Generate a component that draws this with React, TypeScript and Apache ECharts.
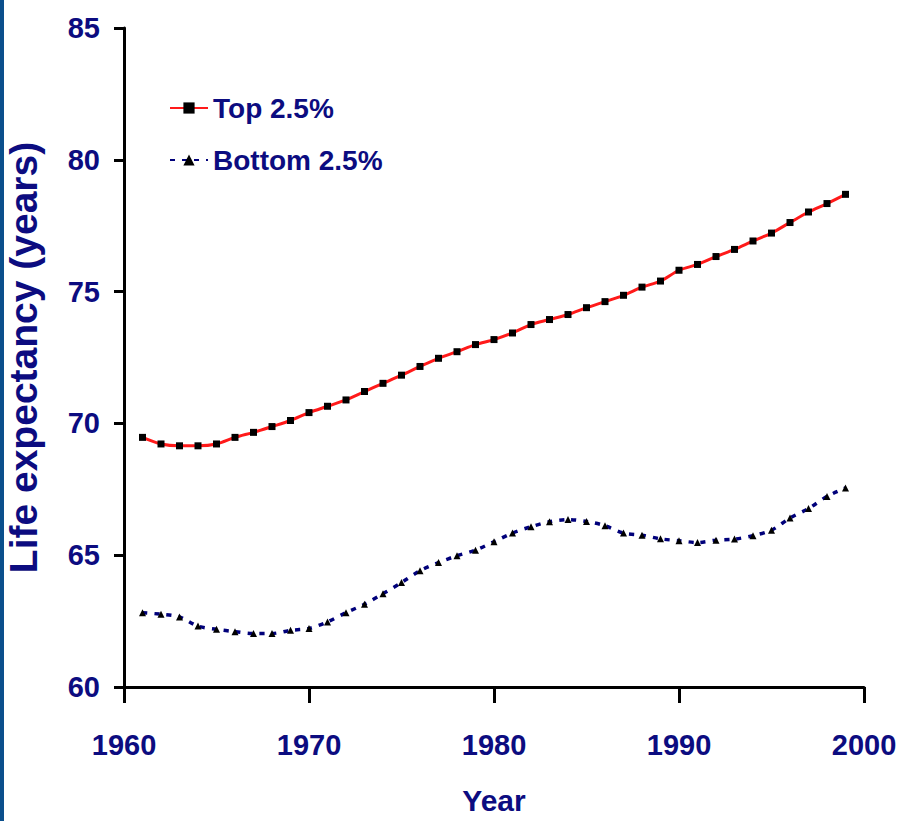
import React, { useEffect, useRef } from "react";
import * as echarts from "echarts";

const years = [1961, 1962, 1963, 1964, 1965, 1966, 1967, 1968, 1969, 1970, 1971, 1972, 1973, 1974, 1975, 1976, 1977, 1978, 1979, 1980, 1981, 1982, 1983, 1984, 1985, 1986, 1987, 1988, 1989, 1990, 1991, 1992, 1993, 1994, 1995, 1996, 1997, 1998, 1999];

const topValues = [69.47, 69.22, 69.15, 69.15, 69.22, 69.47, 69.66, 69.88, 70.11, 70.41, 70.65, 70.89, 71.21, 71.52, 71.83, 72.16, 72.47, 72.72, 72.99, 73.18, 73.43, 73.75, 73.94, 74.13, 74.39, 74.62, 74.86, 75.17, 75.4, 75.81, 76.03, 76.33, 76.6, 76.92, 77.22, 77.62, 78.02, 78.34, 78.69];

const bottomValues = [62.82, 62.76, 62.66, 62.31, 62.19, 62.1, 62.03, 62.03, 62.15, 62.22, 62.47, 62.82, 63.14, 63.54, 63.96, 64.41, 64.72, 64.98, 65.19, 65.51, 65.84, 66.08, 66.27, 66.35, 66.28, 66.12, 65.84, 65.76, 65.62, 65.55, 65.48, 65.57, 65.61, 65.74, 65.95, 66.41, 66.77, 67.23, 67.55];

const seriesNames = ["Top 2.5%", "Bottom 2.5%"];
const xTitle = "Year";
const yTitle = "Life expectancy (years)";

const NAVY = "#0c0c80";
const FONT = "'Liberation Sans', Arial, sans-serif";

export default function App() {
  const ref = useRef<HTMLDivElement>(null);

  useEffect(() => {
    document.body.style.margin = "0";
    const chart = echarts.init(ref.current!, undefined, { renderer: "svg" });
    chart.setOption({
      animation: false,
      backgroundColor: "#ffffff",
      graphic: [
        {
          type: "rect",
          left: 0,
          top: 0,
          shape: { width: 4, height: 821 },
          style: { fill: "#0b4f8c" },
        },
      ],
      grid: { left: 124, right: 37, top: 28, bottom: 134, outerBoundsMode: "none", containLabel: false },
      legend: {
        orient: "vertical",
        left: 169,
        top: 94,
        padding: 0,
        itemWidth: 38,
        itemHeight: 14,
        itemGap: 24,
        data: seriesNames,
        textStyle: { color: NAVY, fontSize: 28, fontFamily: FONT, fontWeight: "bold" },
      },
      xAxis: {
        type: "value",
        min: 1960,
        max: 2000,
        interval: 10,
        name: xTitle,
        nameLocation: "middle",
        nameGap: 98,
        nameTextStyle: { color: NAVY, fontSize: 30, fontFamily: FONT, fontWeight: "bold" },
        axisLine: { lineStyle: { color: "#000", width: 3 } },
        axisTick: { length: 16, lineStyle: { color: "#000", width: 3 } },
        axisLabel: {
          color: NAVY,
          fontSize: 29,
          fontFamily: FONT,
          fontWeight: "bold",
          margin: 43,
          formatter: (v: number) => String(v),
        },
        splitLine: { show: false },
      },
      yAxis: {
        type: "value",
        min: 60,
        max: 85,
        interval: 5,
        name: yTitle,
        nameLocation: "middle",
        nameGap: 81,
        nameTextStyle: { color: NAVY, fontSize: 39, fontFamily: FONT, fontWeight: "bold" },
        axisLine: { show: true, lineStyle: { color: "#000", width: 3 } },
        axisTick: { show: true, length: 10, lineStyle: { color: "#000", width: 3 } },
        axisLabel: { color: NAVY, fontSize: 29, fontFamily: FONT, fontWeight: "bold", margin: 24 },
        splitLine: { show: false },
      },
      series: [
        {
          name: seriesNames[0],
          type: "line",
          data: years.map((y, i) => [y, topValues[i]]),
          smooth: 0.3,
          symbol: "rect",
          symbolSize: 7,
          itemStyle: { color: "#000000" },
          lineStyle: { color: "#ff1a1a", width: 3 },
        },
        {
          name: seriesNames[1],
          type: "line",
          data: years.map((y, i) => [y, bottomValues[i]]),
          smooth: 0.3,
          symbol: "triangle",
          symbolSize: 7,
          itemStyle: { color: "#000000" },
          lineStyle: { color: "#00007a", width: 3.5, type: [5, 7] },
        },
      ],
    });
    return () => chart.dispose();
  }, []);

  return <div ref={ref} style={{ width: 901, height: 821 }} />;
}
